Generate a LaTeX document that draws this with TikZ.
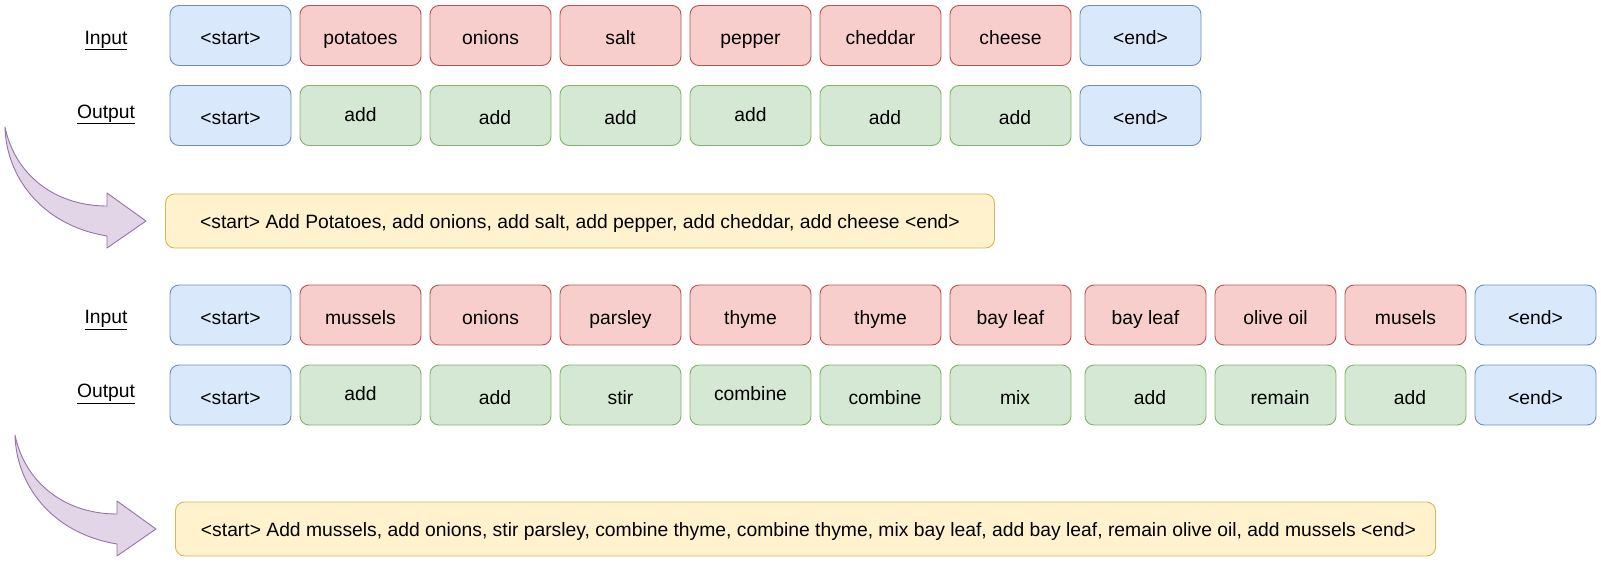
\documentclass[tikz,border=0pt]{standalone}
\usepackage{fontspec}
\setmainfont{Liberation Sans}
\definecolor{bfill}{HTML}{DAE8FC}\definecolor{bdraw}{HTML}{6C8EBF}
\definecolor{rfill}{HTML}{F8CECC}\definecolor{rdraw}{HTML}{B85450}
\definecolor{gfill}{HTML}{D5E8D4}\definecolor{gdraw}{HTML}{82B366}
\definecolor{yfill}{HTML}{FFF2CC}\definecolor{ydraw}{HTML}{D6B656}
\definecolor{pfill}{HTML}{E1D5E7}\definecolor{pdraw}{HTML}{9673A6}
\newcommand{\txtright}[1]{\hspace*{9pt}#1}
\newcommand{\txtup}[1]{\raisebox{3.5pt}{#1}}
\newcommand{\mainsize}{\fontsize{19.3}{21}\selectfont}
\tikzset{
  tok/.style={rounded corners=9pt, line width=0.9pt, minimum width=121pt, minimum height=60pt,
    inner sep=0pt, text height=19.5pt, text depth=1pt, font=\mainsize},
  bluebox/.style={tok, fill=bfill, draw=bdraw},
  redbox/.style={tok, fill=rfill, draw=rdraw},
  greenbox/.style={tok, fill=gfill, draw=gdraw},
  sentbox/.style={rounded corners=9pt, line width=0.9pt, fill=yfill, draw=ydraw, minimum height=54pt,
    inner sep=0pt, text height=16pt, text depth=1pt, font=\mainsize},
  rowlabel/.style={inner sep=0pt, text height=16pt, text depth=1pt, font=\mainsize},
  bigarrow/.style={fill=pfill, draw=pdraw, line width=0.9pt, line join=round}
}
\begin{document}
\begin{tikzpicture}[x=1pt,y=-1pt]
\useasboundingbox (0,0) rectangle (1601,562);
% ---- example 1
\node[rowlabel] (in1) at (106,36.5) {\underline{Input}};
\node[rowlabel] (out1) at (106,110.5) {\underline{Output}};
\node[bluebox]  (a0) at (230.5,35.5) {<start>};
\node[redbox]   (a1) at (360.5,35.5) {potatoes};
\node[redbox]   (a2) at (490.5,35.5) {onions};
\node[redbox]   (a3) at (620.5,35.5) {salt};
\node[redbox]   (a4) at (750.5,35.5) {pepper};
\node[redbox]   (a5) at (880.5,35.5) {cheddar};
\node[redbox]   (a6) at (1010.5,35.5) {cheese};
\node[bluebox]  (a7) at (1140.5,35.5) {<end>};
\node[bluebox]  (b0) at (230.5,115.5) {<start>};
\node[greenbox] (b1) at (360.5,115.5) {\txtup{add}};
\node[greenbox] (b2) at (490.5,115.5) {\txtright{add}};
\node[greenbox] (b3) at (620.5,115.5) {add};
\node[greenbox] (b4) at (750.5,115.5) {\txtup{add}};
\node[greenbox] (b5) at (880.5,115.5) {\txtright{add}};
\node[greenbox] (b6) at (1010.5,115.5) {\txtright{add}};
\node[bluebox]  (b7) at (1140.5,115.5) {<end>};
\node[sentbox, minimum width=829pt] (s1) at (580,221) {<start> Add Potatoes, add onions, add salt, add pepper, add cheddar, add cheese <end>};
\path[bigarrow] (5,127) .. controls (6,175) and (40,225) .. (107,236) -- (107,248) -- (146,221) -- (107,193) -- (107,206) .. controls (55,206) and (15,175) .. (5,127) -- cycle;
% ---- example 2
\node[rowlabel] (in2) at (106,316) {\underline{Input}};
\node[rowlabel] (out2) at (106,390) {\underline{Output}};
\node[bluebox]  (c0) at (230.5,315) {<start>};
\node[redbox]   (c1) at (360.5,315) {mussels};
\node[redbox]   (c2) at (490.5,315) {onions};
\node[redbox]   (c3) at (620.5,315) {parsley};
\node[redbox]   (c4) at (750.5,315) {thyme};
\node[redbox]   (c5) at (880.5,315) {thyme};
\node[redbox]   (c6) at (1010.5,315) {bay leaf};
\node[redbox]   (c7) at (1145.5,315) {bay leaf};
\node[redbox]   (c8) at (1275.5,315) {olive oil};
\node[redbox]   (c9) at (1405.5,315) {musels};
\node[bluebox]  (c10) at (1535.5,315) {<end>};
\node[bluebox]  (d0) at (230.5,395) {<start>};
\node[greenbox] (d1) at (360.5,395) {\txtup{add}};
\node[greenbox] (d2) at (490.5,395) {\txtright{add}};
\node[greenbox] (d3) at (620.5,395) {stir};
\node[greenbox] (d4) at (750.5,395) {\txtup{combine}};
\node[greenbox] (d5) at (880.5,395) {\txtright{combine}};
\node[greenbox] (d6) at (1010.5,395) {\txtright{mix}};
\node[greenbox] (d7) at (1145.5,395) {\txtright{add}};
\node[greenbox] (d8) at (1275.5,395) {\txtright{remain}};
\node[greenbox] (d9) at (1405.5,395) {\txtright{add}};
\node[bluebox]  (d10) at (1535.5,395) {<end>};
\node[sentbox, minimum width=1260pt] (s2) at (805.5,529) {\hspace*{6pt}<start> Add mussels, add onions, stir parsley, combine thyme, combine thyme, mix bay leaf, add bay leaf, remain olive oil, add mussels <end>};
\begin{scope}[shift={(10,308)}]
\path[bigarrow] (5,127) .. controls (6,175) and (40,225) .. (107,236) -- (107,248) -- (146,221) -- (107,193) -- (107,206) .. controls (55,206) and (15,175) .. (5,127) -- cycle;
\end{scope}
\end{tikzpicture}
\end{document}
